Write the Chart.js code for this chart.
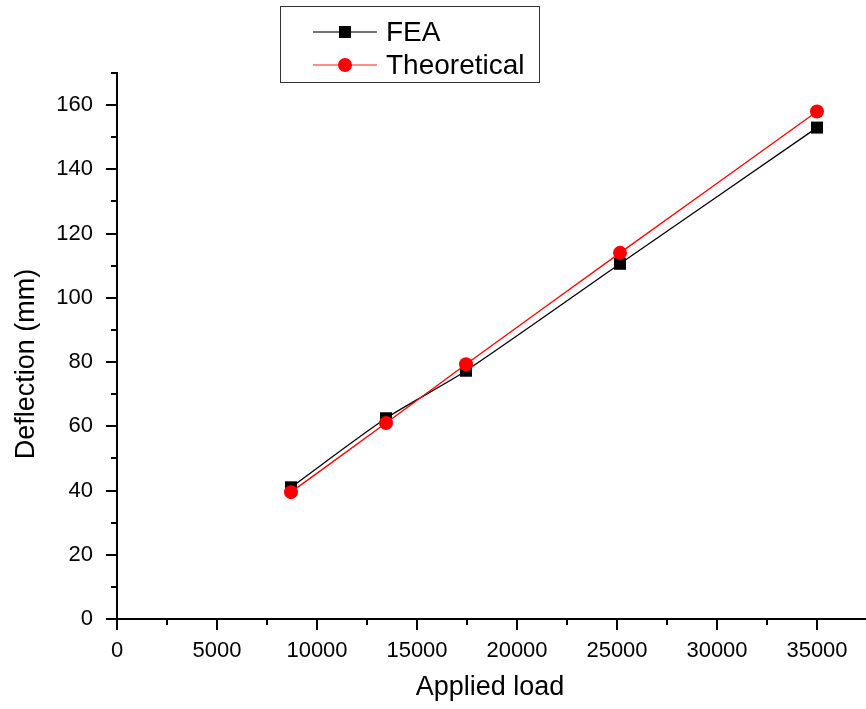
<!DOCTYPE html>
<html>
<head>
<meta charset="utf-8">
<script src="https://cdn.jsdelivr.net/npm/chart.js@4/dist/chart.umd.min.js"></script>
<style>
  html, body { margin: 0; padding: 0; background: #fff; overflow: hidden; }
  #wrap { width: 867px; height: 709px; }
</style>
</head>
<body>
<div id="wrap"><canvas id="chart"></canvas></div>
<script>
// Data
const loads       = [8700, 13450, 17450, 25150, 35000];
const feaValues   = [41, 62.5, 77.3, 110.6, 153];
const theoValues  = [39.5, 61, 79.3, 114, 158];
const seriesNames = ['FEA', 'Theoretical'];
const xTitle = 'Applied load';
const yTitle = 'Deflection (mm)';

const FONT = '"Liberation Sans", Arial, sans-serif';

// outward major/minor tick marks, titles and the boxed legend
const tickMarks = {
  id: 'tickMarks',
  afterDraw(chart) {
    const ctx = chart.ctx;
    const xs = chart.scales.x, ys = chart.scales.y;
    ctx.save();
    ctx.strokeStyle = '#000';
    ctx.lineWidth = 2;
    xs.ticks.forEach(t => {
      const px = Math.round(xs.getPixelForValue(t.value));
      const len = t.value % 5000 === 0 ? 11 : 6;
      ctx.beginPath();
      ctx.moveTo(px, xs.top);
      ctx.lineTo(px, xs.top + len);
      ctx.stroke();
    });
    ys.ticks.forEach(t => {
      const py = Math.round(ys.getPixelForValue(t.value));
      const len = t.value % 20 === 0 ? 11 : 6;
      ctx.beginPath();
      ctx.moveTo(ys.right, py);
      ctx.lineTo(ys.right - len, py);
      ctx.stroke();
    });

    // axis titles
    ctx.fillStyle = '#000';
    ctx.font = '27px ' + FONT;
    ctx.textAlign = 'center';
    ctx.textBaseline = 'middle';
    ctx.fillText(xTitle, 490, 688);
    ctx.translate(27, 364);
    ctx.rotate(-Math.PI / 2);
    ctx.fillText(yTitle, 0, 0);
    ctx.restore();

    // legend box
    ctx.save();
    ctx.strokeStyle = '#333';
    ctx.lineWidth = 1;
    ctx.strokeRect(280.5, 6.5, 259, 76);
    const rows = [32, 65];
    chart.data.datasets.slice().sort((a, b) => a.legendIndex - b.legendIndex).forEach((ds, i) => {
      const y = rows[i];
      ctx.strokeStyle = ds.legendLine;
      ctx.lineWidth = 1.5;
      ctx.beginPath();
      ctx.moveTo(313, y);
      ctx.lineTo(377, y);
      ctx.stroke();
      ctx.fillStyle = ds.pointBackgroundColor;
      if (ds.pointStyle === 'rect') {
        ctx.fillRect(339, y - 6, 12, 12);
      } else {
        ctx.beginPath();
        ctx.arc(345, y, 7, 0, Math.PI * 2);
        ctx.fill();
      }
      ctx.fillStyle = '#000';
      ctx.font = '28px ' + FONT;
      ctx.textAlign = 'left';
      ctx.textBaseline = 'middle';
      ctx.fillText(ds.label, 386, y + 1);
    });
    ctx.restore();
  }
};

new Chart(document.getElementById('chart'), {
  type: 'line',
  data: {
    datasets: [
      {
        label: seriesNames[1],
        legendIndex: 1,
        legendLine: '#ff6666',
        data: loads.map((x, i) => ({ x, y: theoValues[i] })),
        borderColor: '#ff0000',
        borderWidth: 1.3,
        pointStyle: 'circle',
        pointRadius: 7,
        pointBackgroundColor: '#ff0000',
        pointBorderWidth: 0,
        tension: 0.2,
        order: 0
      },
      {
        label: seriesNames[0],
        legendIndex: 0,
        legendLine: '#444',
        data: loads.map((x, i) => ({ x, y: feaValues[i] })),
        borderColor: '#000',
        borderWidth: 1.3,
        pointStyle: 'rect',
        pointRadius: 8.5,
        pointBackgroundColor: '#000',
        pointBorderWidth: 0,
        tension: 0.25,
        order: 1
      }
    ]
  },
  options: {
    responsive: true,
    maintainAspectRatio: false,
    animation: false,
    layout: { autoPadding: false, padding: { top: 73, right: 0, left: 0, bottom: 0 } },
    plugins: { legend: { display: false }, tooltip: { enabled: false } },
    scales: {
      x: {
        type: 'linear',
        min: 0,
        max: 37500,
        grid: { display: false },
        border: { display: true, color: '#000', width: 2 },
        ticks: {
          stepSize: 2500,
          autoSkip: false,
          maxRotation: 0,
          padding: 11,
          color: '#000',
          font: { family: FONT, size: 22 },
          callback: v => (v % 5000 === 0 ? String(v) : '')
        },
        afterFit: s => { s.height = 90; s.paddingRight = 0; s.paddingLeft = 0; }
      },
      y: {
        type: 'linear',
        min: 0,
        max: 170,
        grid: { display: false },
        border: { display: true, color: '#000', width: 2 },
        ticks: {
          stepSize: 10,
          autoSkip: false,
          padding: 16,
          color: '#000',
          font: { family: FONT, size: 22 },
          callback: v => (v % 20 === 0 ? String(v) : '')
        },
        afterFit: s => { s.width = 117; }
      }
    }
  },
  plugins: [tickMarks]
});
</script>
</body>
</html>
